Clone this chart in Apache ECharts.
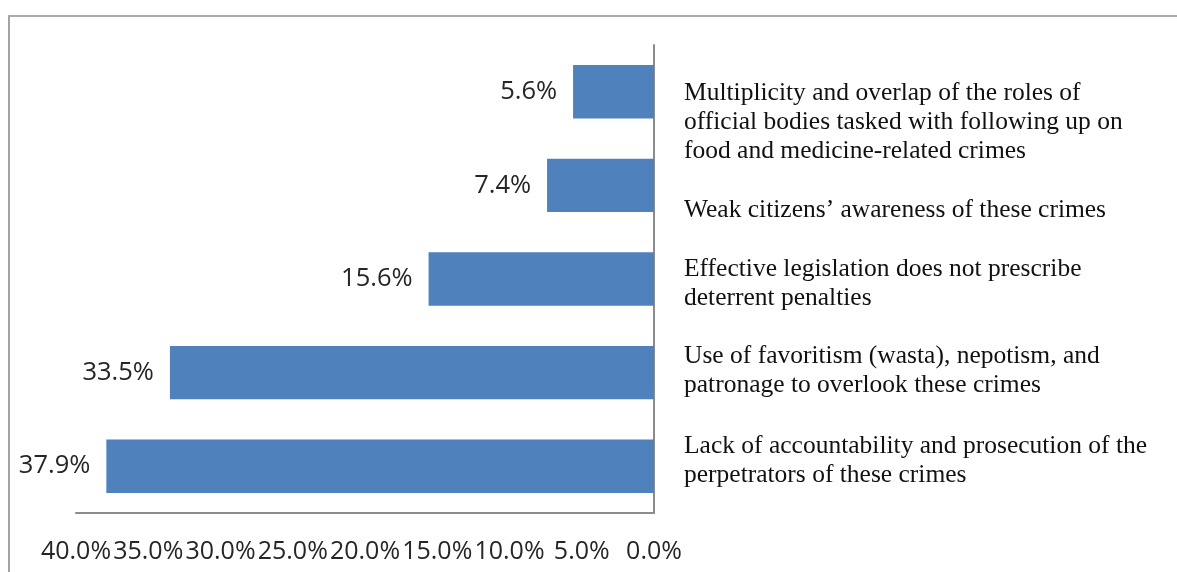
<!DOCTYPE html>
<html>
<head>
<meta charset="utf-8">
<title>Reasons for food and medicine-related crimes</title>
<script src="https://cdn.jsdelivr.net/npm/echarts@6/dist/echarts.min.js"></script>
<style>
  html, body { margin: 0; padding: 0; background: #ffffff; }
  #chart { width: 1177px; height: 572px; }
  #frame {
    position: absolute; left: 8px; top: 15px; width: 1180px; height: 570px;
    border-left: 2px solid #a3a3a3; border-top: 2px solid #ababab;
    pointer-events: none;
  }
</style>
</head>
<body>
<div id="chart"></div>
<div id="frame"></div>
<script>
// Categories, listed top to bottom
const categories = [
  'Multiplicity and overlap of the roles of\nofficial bodies tasked with following up on\nfood and medicine-related crimes',
  'Weak citizens\u2019 awareness of these crimes',
  'Effective legislation does not prescribe\ndeterrent penalties',
  'Use of favoritism (wasta), nepotism, and\npatronage to overlook these crimes',
  'Lack of accountability and prosecution of the\nperpetrators of these crimes'
];

// Share of respondents, percent
const shares = [5.6, 7.4, 15.6, 33.5, 37.9];

// Value axis ticks (percent)
const axisMin = 0;
const axisMax = 40;
const axisStep = 5;

// Vertical nudge (px) for each category label, in the same order
const labelShift = [30, 25, 5, -2, -5];

// Spacer rows used to nudge each label block up or down
const rich = {};
labelShift.forEach((s, i) => {
  const h = Math.max(1, Math.abs(2 * s));
  rich['sp' + i] = { fontSize: 1, height: h, lineHeight: h };
});

function categoryLabel(value, index) {
  const s = labelShift[index] || 0;
  const spacer = '{sp' + index + '| }';
  if (s > 0) return spacer + '\n' + value;
  if (s < 0) return value + '\n' + spacer;
  return value;
}

const chart = echarts.init(document.getElementById('chart'), null, { renderer: 'canvas' });

chart.setOption({
  backgroundColor: '#ffffff',
  animation: false,
  grid: { left: 76, right: 523, top: 45, bottom: 59, containLabel: false },
  xAxis: {
    type: 'value',
    inverse: true,
    min: axisMin,
    max: axisMax,
    interval: axisStep,
    axisLine: { show: true, lineStyle: { color: '#8c8c8c', width: 2 } },
    axisTick: { show: false },
    splitLine: { show: false },
    axisLabel: {
      margin: 26,
      hideOverlap: false,
      fontFamily: '"Open Sans", "Liberation Sans", sans-serif',
      fontSize: 25,
      lineHeight: 25,
      color: '#262626',
      formatter: v => v.toFixed(1) + '%'
    }
  },
  yAxis: {
    type: 'category',
    inverse: true,
    position: 'right',
    data: categories,
    axisLine: { show: true, lineStyle: { color: '#8c8c8c', width: 2 } },
    axisTick: { show: false },
    splitLine: { show: false },
    axisLabel: {
      interval: 0,
      hideOverlap: false,
      margin: 30,
      align: 'left',
      verticalAlign: 'middle',
      fontFamily: '"Liberation Serif", "Times New Roman", serif',
      fontSize: 25.5,
      lineHeight: 29,
      color: '#111111',
      formatter: categoryLabel,
      rich: rich
    }
  },
  series: [{
    type: 'bar',
    data: shares,
    barWidth: '57%',
    itemStyle: { color: '#4f81bd' },
    label: {
      show: true,
      position: 'left',
      distance: 16,
      fontFamily: '"Open Sans", "Liberation Sans", sans-serif',
      fontSize: 25.5,
      color: '#262626',
      formatter: p => p.value.toFixed(1) + '%'
    }
  }]
});
</script>
</body>
</html>
